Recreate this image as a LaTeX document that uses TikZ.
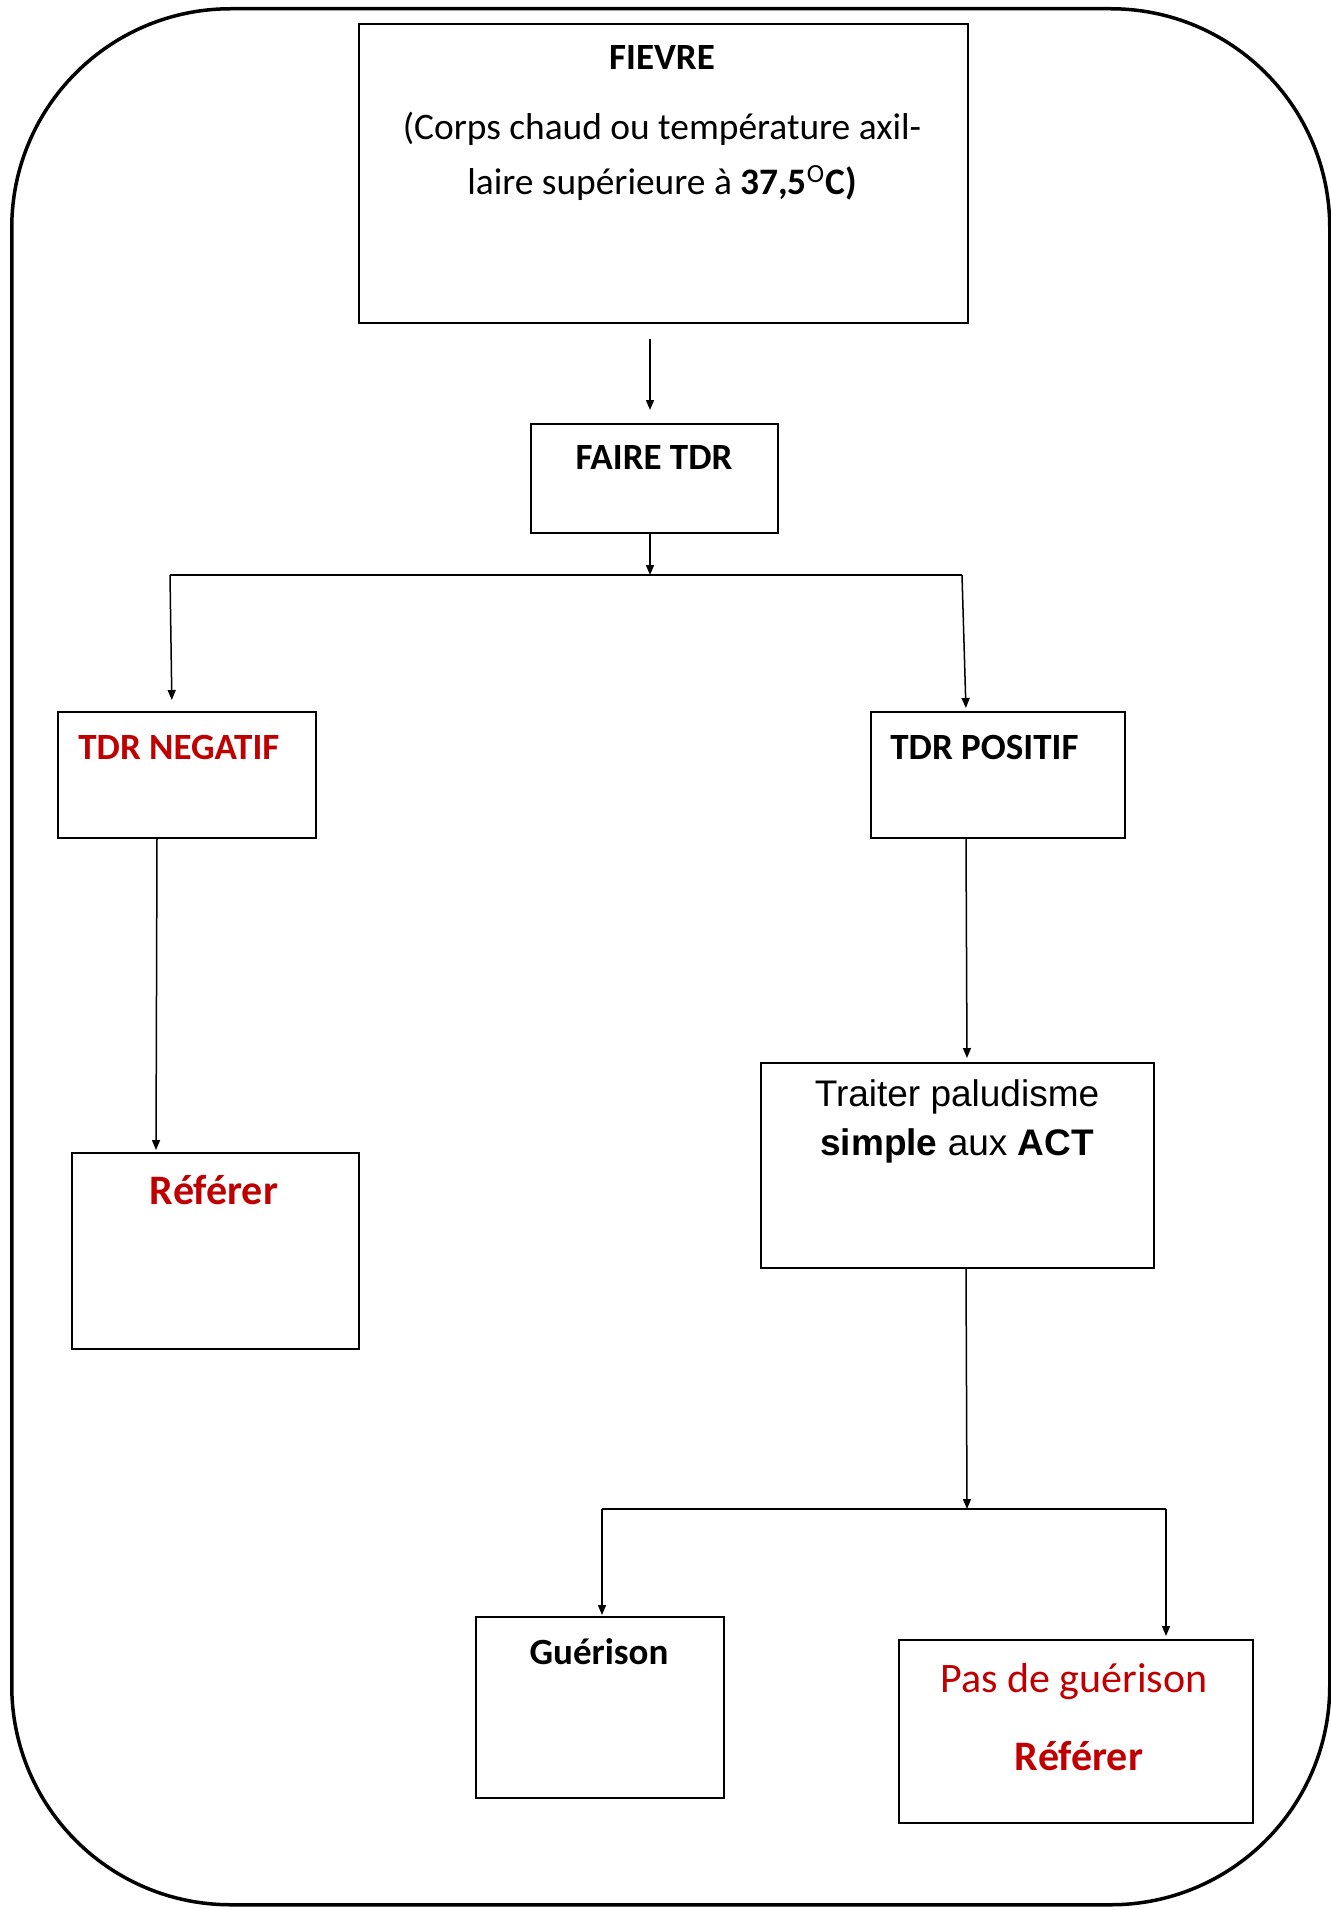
\documentclass[tikz,border=0pt]{standalone}
\usepackage{fontspec}
\setmainfont{Carlito}
\newfontfamily\arialfont{Liberation Sans}
\usetikzlibrary{arrows.meta}
\definecolor{darkred}{RGB}{192,0,0}
\begin{document}
\begin{tikzpicture}[x=0.5pt,y=-0.5pt,
  box/.style={draw,line width=1pt,inner sep=0pt,anchor=north west},
  conn/.style={line width=0.75pt},
  arr/.style={conn,-{Triangle[length=5pt,width=4pt]}},
  lbl/.style={inner sep=0pt,font=\fontsize{18.5}{22}\selectfont\bfseries},
  big/.style={inner sep=0pt,font=\fontsize{21}{25}\selectfont},
  body/.style={inner sep=0pt,font=\fontsize{18.7}{22}\selectfont}]
\useasboundingbox (0,0) rectangle (1330,1910);
% frame
\node[draw,line width=1.75pt,rounded corners=109.5pt,inner sep=0pt,anchor=north west,
  minimum width=659pt,minimum height=948pt] (frame) at (10,7) {};
% boxes
\node[box,minimum width=304.5pt,minimum height=149.5pt] (fievre) at (358,23) {};
\node[box,minimum width=123.5pt,minimum height=54.5pt] (faire) at (530,423) {};
\node[box,minimum width=129pt,minimum height=63pt] (neg) at (57,711) {};
\node[box,minimum width=127pt,minimum height=63pt] (pos) at (870,711) {};
\node[box,minimum width=143.5pt,minimum height=98pt] (ref1) at (71,1152) {};
\node[box,minimum width=196.5pt,minimum height=102.5pt] (trait) at (760,1062) {};
\node[box,minimum width=124pt,minimum height=90.5pt] (guer) at (475,1616) {};
\node[box,minimum width=177pt,minimum height=91.5pt] (pas) at (898,1639) {};
% texts
\node[lbl] (tfievre) at (662,58) {FIEVRE};
\node[body] (tcorps1) at (662,129) {(Corps chaud ou température axil-};
\node[body] (tcorps2) at (662,183) {laire supérieure à \textbf{37,5}\textsuperscript{O}\textbf{C)}};
\node[lbl] (tfaire) at (654,458) {FAIRE TDR};
\node[lbl,text=darkred,anchor=west] (tneg) at (78,747) {TDR NEGATIF};
\node[lbl,anchor=west] (tpos) at (890,747) {TDR POSITIF};
\node[big,font=\fontsize{21}{25}\selectfont\bfseries,text=darkred] (tref1) at (214,1190) {Référer};
\node[inner sep=0pt,font=\fontsize{18.5}{22}\selectfont\arialfont] (ttrait1) at (957,1097) {Traiter paludisme};
\node[inner sep=0pt,font=\fontsize{18.5}{22}\selectfont\arialfont] (ttrait2) at (957,1146) {\textbf{simple} aux \textbf{ACT}};
\node[lbl] (tguer) at (599,1652) {Guérison};
\node[big,text=darkred] (tpas) at (1074,1682) {Pas de guérison};
\node[big,font=\fontsize{21}{25}\selectfont\bfseries,text=darkred] (tref2) at (1079,1756) {Référer};
% junction coordinates
\coordinate (fs) at (650,339);
\coordinate (j1) at (650,575);
\coordinate (jl) at (170,575);
\coordinate (jr) at (962,575);
\coordinate (j2) at (967,1509);
\coordinate (jgl) at (602,1509);
\coordinate (jgr) at (1166,1509);
% connectors
\draw[arr,shorten >=6.5pt] (fs) -- (fs |- faire.north);
\draw[arr] (j1 |- faire.south) -- (j1);
\draw[conn] (jl) -- (jr);
\draw[arr,shorten >=5.5pt] (jl) -- (172,0 |- neg.north);
\draw[arr,shorten >=1.5pt] (jr) -- (966,0 |- pos.north);
\draw[arr,shorten >=1pt] (157,0 |- neg.south) -- (156,0 |- ref1.north);
\draw[arr,shorten >=2pt] (966,0 |- pos.south) -- (967,0 |- trait.north);
\draw[arr] (966,0 |- trait.south) -- (j2);
\draw[conn] (jgl) -- (jgr);
\draw[arr,shorten >=0.5pt] (jgl) -- (jgl |- guer.north);
\draw[arr,shorten >=1.5pt] (jgr) -- (jgr |- pas.north);
\end{tikzpicture}
\end{document}
